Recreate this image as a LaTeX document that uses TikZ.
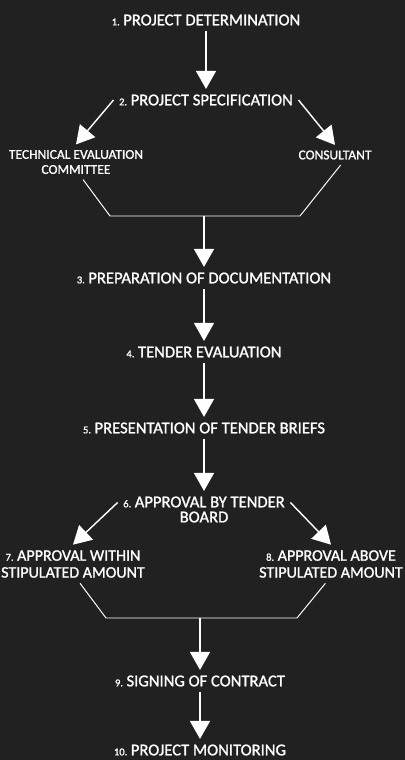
\documentclass[tikz,border=0pt]{standalone}
\usepackage{fontspec}
\setmainfont{Carlito}[FakeBold=1.2]
\usetikzlibrary{arrows.meta}

\newcommand{\stepno}[1]{{\fontsize{7.5}{8}\selectfont #1.}\hspace{2.5pt}}

\begin{document}
\begin{tikzpicture}[x=0.025cm,y=-0.025cm,
    stage/.style={text=white,font=\fontsize{11.8}{10.7}\selectfont,
      inner sep=2pt,outer sep=2pt,align=center},
    party/.style={text=white,font=\fontsize{9.6}{10.7}\selectfont,
      inner sep=2pt,outer sep=2pt,align=center},
    flow/.style={draw=white,line width=1pt,
      -{Triangle[length=0.45cm,width=0.5cm]}},
    merge/.style={draw=white,line width=0.7pt}]
  \fill[black!87] (0,0) rectangle (405,760);
  \useasboundingbox (0,0) rectangle (405,760);

  % main column
  \node[stage] (det) at (206,20) {\stepno{1}PROJECT DETERMINATION};
  \node[stage] (spec) at (206,100) {\stepno{2}PROJECT SPECIFICATION};
  \node[party] (tec) at (76,162) {TECHNICAL EVALUATION\\COMMITTEE};
  \node[party] (con) at (335,155) {CONSULTANT};
  \node[stage] (prep) at (204,278) {\stepno{3}PREPARATION OF DOCUMENTATION};
  \node[stage] (tend) at (204,352) {\stepno{4}TENDER EVALUATION};
  \node[stage] (pres) at (204,428) {\stepno{5}PRESENTATION OF TENDER BRIEFS};
  \node[stage] (board) at (204,509.5) {\stepno{6}APPROVAL BY TENDER\\BOARD};
  \node[stage,font=\fontsize{11.4}{12}\selectfont] (within) at (73,564)
    {\stepno{7}APPROVAL WITHIN\\STIPULATED AMOUNT};
  \node[stage,font=\fontsize{11.4}{12}\selectfont] (above) at (331,564)
    {\stepno{8}APPROVAL ABOVE\\STIPULATED AMOUNT};
  \node[stage] (sign) at (200,681) {\stepno{9}SIGNING OF CONTRACT};
  \node[stage] (mon) at (200,750) {\stepno{10}PROJECT MONITORING};

  % junctions
  \coordinate (j1) at (204,216);
  \coordinate (j1l) at (110,216);
  \coordinate (j1r) at (300,216);
  \coordinate (j2) at (200,618);
  \coordinate (j2l) at (106,618);
  \coordinate (j2r) at (297,618);

  \draw[flow] (det) -- (spec);
  \draw[flow] (spec.west) -- (tec.north);
  \draw[flow] (spec.east) -- (con.north);
  \draw[merge] ([xshift=5pt]tec.south) -- (j1l) -- (j1r) -- ([xshift=4pt]con.south);
  \draw[flow] (j1) -- (prep);
  \draw[flow] (prep) -- (tend);
  \draw[flow] (tend) -- (pres);
  \draw[flow] (pres) -- (board);
  \draw[flow] ([yshift=5pt]board.west) -- (within.north);
  \draw[flow] ([yshift=5pt]board.east) -- (above.north);
  \draw[merge] ([xshift=5pt]within.south) -- (j2l) -- (j2r) -- ([xshift=-4pt]above.south);
  \draw[flow] (j2) -- (sign);
  \draw[flow] (sign) -- (mon);
\end{tikzpicture}
\end{document}
